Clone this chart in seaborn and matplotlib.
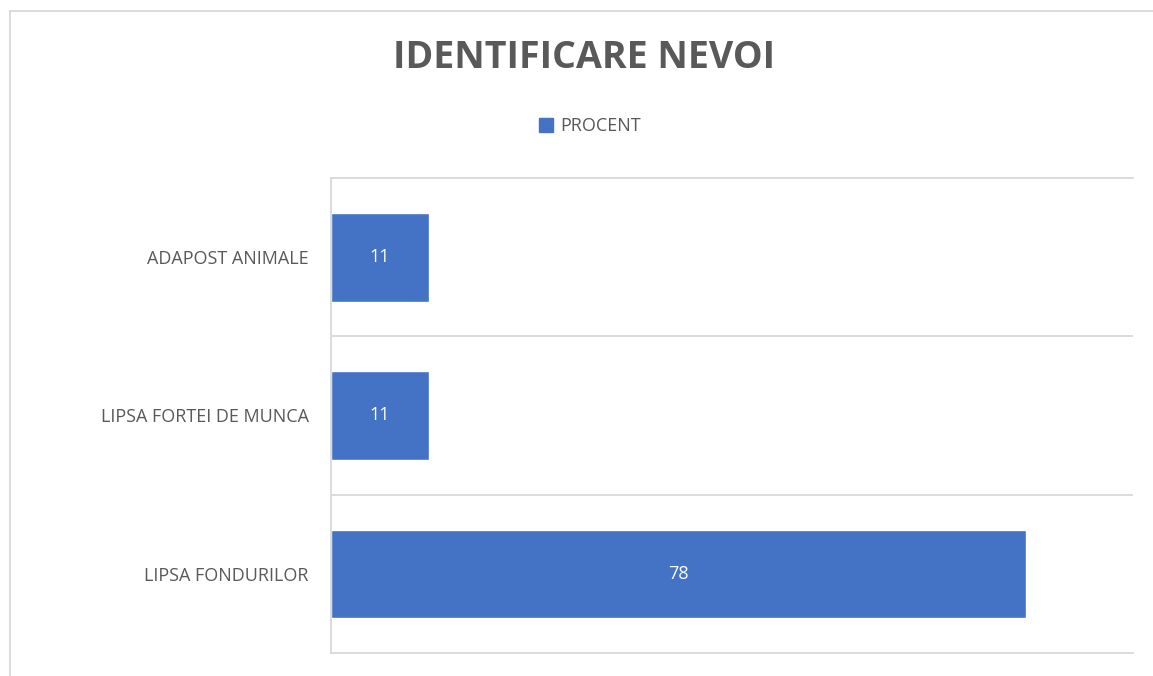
import matplotlib
matplotlib.use("Agg")
import matplotlib.pyplot as plt
from matplotlib.lines import Line2D
import seaborn as sns
import pandas as pd

categories = ["ADAPOST ANIMALE", "LIPSA FORTEI DE MUNCA", "LIPSA FONDURILOR"]
values = [11, 11, 78]
series_name = "PROCENT"
title = "IDENTIFICARE NEVOI"

sns.set_theme(style="white")
plt.rcParams['font.family'] = ['Open Sans', 'DejaVu Sans']

df = pd.DataFrame({"cat": categories, "val": values, "series": [series_name] * len(values)})

fig = plt.figure(figsize=(11.53, 6.76), dpi=100)
fig.patch.set_facecolor("white")
ax = fig.add_axes([331 / 1153, 1 - 653 / 676, (1133 - 331) / 1153, (653 - 178) / 676])

bar_color = "#4472C4"
grid_color = "#D9D9D9"
text_gray = "#595959"

sns.barplot(data=df, y="cat", x="val", hue="series", orient="h", palette=[bar_color],
            width=0.56, ax=ax, legend=True, saturation=1)

ax.set_xlim(0, 90)
ax.set_ylim(2.5, -0.5)
ax.set_xlabel("")
ax.set_ylabel("")
ax.set_xticks([])
ax.set_yticks(range(len(categories)))
ax.set_yticklabels(categories, fontsize=13, color=text_gray)
ax.tick_params(axis="y", length=0, pad=16)

ax.spines["right"].set_visible(False)
for sp in ["left", "top", "bottom"]:
    ax.spines[sp].set_color(grid_color)
    ax.spines[sp].set_linewidth(1.3)
for b in [0.5, 1.5]:
    ax.axhline(b, color=grid_color, lw=1.3, zorder=0)

for c in ax.containers:
    ax.bar_label(c, label_type="center", color="white", fontsize=13)

leg = ax.get_legend()
if leg is not None:
    leg.remove()
fig.legend(handles=[plt.Rectangle((0, 0), 1, 1, color=bar_color)], labels=[series_name],
           loc="center", bbox_to_anchor=(590 / 1153, 1 - 126 / 676), frameon=False,
           fontsize=13, handlelength=0.8, handleheight=0.8, handletextpad=0.4,
           labelcolor=text_gray)

fig.text(584.5 / 1153, 1 - 58 / 676, title, ha="center", va="center",
         fontsize=27, fontweight="bold", color=text_gray)

# chart frame
x0 = 10 / 1153
y0 = 1 - 11 / 676
fig.add_artist(Line2D([x0, x0], [0, y0], color=grid_color, lw=1.3, transform=fig.transFigure))
fig.add_artist(Line2D([x0, 1], [y0, y0], color=grid_color, lw=1.3, transform=fig.transFigure))

fig.savefig("out.png", dpi=100, facecolor="white")
